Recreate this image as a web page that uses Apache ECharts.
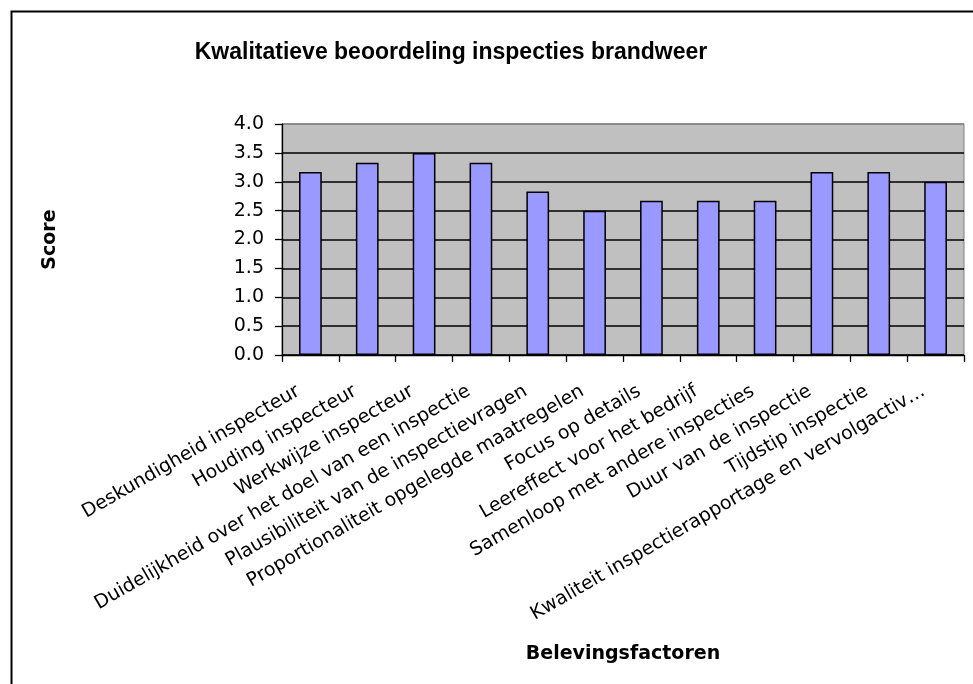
<!DOCTYPE html>
<html><head><meta charset="utf-8">
<script src="https://cdn.jsdelivr.net/npm/echarts@6/dist/echarts.min.js"></script>
<style>html,body{margin:0;padding:0;background:#fff}#c{width:973px;height:684px}</style>
</head><body><div id="c"></div>
<script>
const titleText = 'Kwalitatieve beoordeling inspecties brandweer';
const xAxisName = 'Belevingsfactoren';
const yAxisName = 'Score';
const categories = [
  'Deskundigheid inspecteur',
  'Houding inspecteur',
  'Werkwijze inspecteur',
  'Duidelijkheid over het doel van een inspectie',
  'Plausibiliteit van de inspectievragen',
  'Proportionaliteit opgelegde maatregelen',
  'Focus op details',
  'Leereffect voor het bedrijf',
  'Samenloop met andere inspecties',
  'Duur van de inspectie',
  'Tijdstip inspectie',
  'Kwaliteit inspectierapportage en vervolgactiv\u2026'
];
const scores = [3.17, 3.33, 3.5, 3.33, 2.83, 2.5, 2.67, 2.67, 2.67, 3.17, 3.17, 3.0];
const yMin = 0, yMax = 4, yStep = 0.5;

const chart = echarts.init(document.getElementById('c'), null, {renderer: 'canvas'});
const nLines = Math.round((yMax - yMin) / yStep) + 1;
const splitColors = [];
for (let i = 0; i < nLines; i++) splitColors.push(i === nLines - 1 ? '#808080' : '#000000');

chart.setOption({
  animation: false,
  backgroundColor: '#ffffff',
  graphic: [{
    type: 'rect', left: 9, top: 9, z: 100,
    shape: {width: 1200, height: 1200},
    style: {fill: 'none', stroke: '#000', lineWidth: 2}
  }],
  title: {
    text: titleText,
    left: 446, top: 36, textAlign: 'center',
    textStyle: {fontFamily: 'Liberation Sans', fontWeight: 'bold', fontSize: 23, color: '#000'}
  },
  grid: {
    left: 282, right: 9, top: 124, bottom: 329,
    show: true, backgroundColor: '#C0C0C0', borderColor: '#808080', borderWidth: 1
  },
  xAxis: {
    type: 'category',
    data: categories,
    name: xAxisName,
    nameLocation: 'middle',
    nameGap: 290,
    nameTextStyle: {fontFamily: 'DejaVu Sans', fontWeight: 'bold', fontSize: 19, color: '#000'},
    axisLine: {lineStyle: {color: '#000', width: 1.3}},
    axisTick: {show: true, length: 7, lineStyle: {color: '#000', width: 1.3}},
    axisLabel: {
      interval: 0, rotate: 30, margin: 28, color: '#000',
      padding: [0, 14, 0, 0],
      fontFamily: 'DejaVu Sans', fontSize: 19
    }
  },
  yAxis: {
    type: 'value',
    min: yMin, max: yMax, interval: yStep,
    name: yAxisName,
    nameLocation: 'middle',
    nameGap: 222,
    nameRotate: 90,
    nameTextStyle: {fontFamily: 'DejaVu Sans', fontWeight: 'bold', fontSize: 19, color: '#000'},
    axisLine: {show: true, lineStyle: {color: '#000', width: 1.3}},
    axisTick: {show: true, length: 7, lineStyle: {color: '#000', width: 1.3}},
    axisLabel: {
      margin: 18, color: '#000', fontFamily: 'DejaVu Sans', fontSize: 19,
      formatter: v => v.toFixed(1)
    },
    splitLine: {show: true, lineStyle: {color: splitColors, width: 1.5}}
  },
  series: [{
    type: 'bar',
    data: scores,
    barWidth: '40%',
    itemStyle: {color: '#9999FF', borderColor: '#000', borderWidth: 1.5}
  }]
});
</script>
</body></html>
